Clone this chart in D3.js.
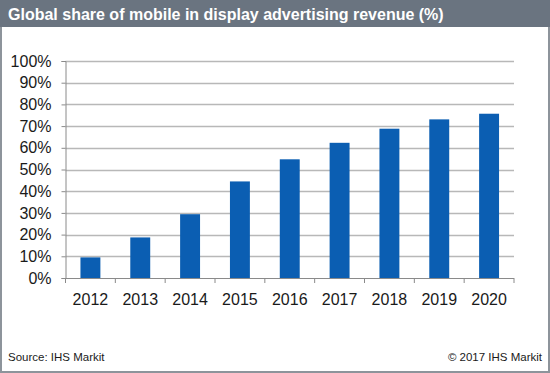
<!DOCTYPE html>
<html><head><meta charset="utf-8">
<script src="https://cdn.jsdelivr.net/npm/d3@7"></script>
<style>
html,body{margin:0;padding:0;background:#fff;}
svg{display:block;font-family:"Liberation Sans",Arial,sans-serif;}
</style></head>
<body>
<svg id="chart" width="550" height="373"></svg>
<script>
const years = ["2012","2013","2014","2015","2016","2017","2018","2019","2020"];
const shares = [9.5, 18.7, 29.4, 44.5, 54.7, 62.3, 68.8, 73.1, 75.7];
const yTicks = [0,10,20,30,40,50,60,70,80,90,100];
const titleText = "Global share of mobile in display advertising revenue (%)";
const sourceText = "Source: IHS Markit";
const copyrightText = "© 2017 IHS Markit";

(function(){
const svg = d3.select("#chart");
const W = 550, H = 373;

// outer frame
svg.append("rect").attr("x",1).attr("y",1).attr("width",W-2).attr("height",H-2)
  .attr("fill","#fff").attr("stroke","#8d949b").attr("stroke-width",2);
// title bar
svg.append("rect").attr("x",0).attr("y",0).attr("width",W).attr("height",27).attr("fill","#6a7480");
svg.append("text").attr("x",8).attr("y",20).attr("fill","#fff")
  .attr("font-size",16).attr("font-weight","bold").text(titleText);

const pL = 65.5, pR = 514, pT = 61, pB = 278;
const x = d3.scaleBand().domain(years).range([pL, pR]).paddingInner(0.6).paddingOuter(0.3);
const xb = d3.scaleBand().domain(years).range([pL, pR]);
const y = d3.scaleLinear().domain([0,100]).range([pB, pT]);

// gridlines
svg.append("g").selectAll("line").data(yTicks.filter(d=>d>0)).join("line")
  .attr("x1",pL).attr("x2",pR).attr("y1",d=>Math.round(y(d))+0.5).attr("y2",d=>Math.round(y(d))+0.5)
  .attr("stroke","#b8b8b8").attr("stroke-width",1.6);

// y axis
const yAxis = d3.axisLeft(y).tickValues(yTicks).tickFormat(d=>d+"%").tickSize(4).tickPadding(10);
const gy = svg.append("g").attr("transform",`translate(${pL},0)`).call(yAxis);
gy.select(".domain").attr("stroke","#8a8a8a");
gy.selectAll(".tick line").attr("stroke","#8a8a8a");
gy.selectAll(".tick text").attr("font-size",16).attr("fill","#1a1a1a").attr("font-family","Liberation Sans, Arial, sans-serif");

// bars
svg.append("g").selectAll("rect").data(years).join("rect")
  .attr("x",(d)=>x(d)).attr("width",x.bandwidth())
  .attr("y",(d,i)=>y(shares[i])).attr("height",(d,i)=>pB - y(shares[i]))
  .attr("fill","#0b5eb2");

// x axis
const gx = svg.append("g").attr("transform",`translate(0,${pB})`);
gx.append("line").attr("x1",pL).attr("x2",pR).attr("y1",0.5).attr("y2",0.5).attr("stroke","#8a8a8a");
const bounds = years.map(d=>xb(d)).concat([pR]);
gx.selectAll("line.tk").data(bounds).join("line").attr("class","tk")
  .attr("x1",d=>d).attr("x2",d=>d).attr("y1",0).attr("y2",5).attr("stroke","#8a8a8a");
gx.selectAll("text").data(years).join("text")
  .attr("x",d=>xb(d)+xb.bandwidth()/2).attr("y",27).attr("text-anchor","middle")
  .attr("font-size",16).attr("fill","#1a1a1a").text(d=>d);

// footer
svg.append("text").attr("x",8).attr("y",361).attr("font-size",11.5).attr("fill","#1a1a1a").text(sourceText);
svg.append("text").attr("x",542).attr("y",361).attr("text-anchor","end").attr("font-size",11.5).attr("fill","#1a1a1a").text(copyrightText);
})();
</script>
</body></html>
